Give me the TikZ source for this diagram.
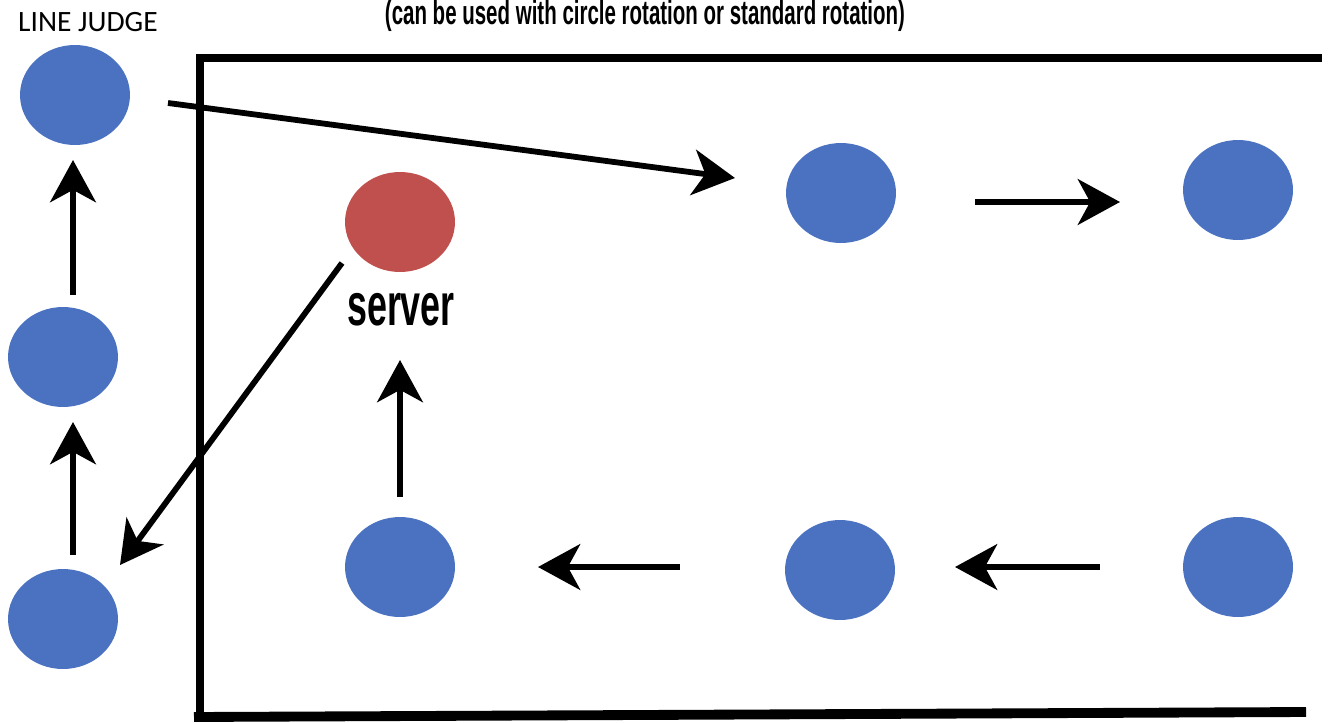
\documentclass[tikz,border=0pt]{standalone}
\usepackage{fontspec}
\setmainfont{Carlito}
\newfontfamily\capfont{Liberation Sans}
\usetikzlibrary{arrows.meta,shapes.geometric}
\definecolor{pblue}{HTML}{4A72C0}
\definecolor{pred}{HTML}{C0504D}
\tikzset{
  player/.style={ellipse, fill=pblue, draw=none, minimum width=110*0.569pt, minimum height=100*0.569pt, inner sep=0pt},
  srvnode/.style={player, fill=pred},
  move/.style={line width=3.3pt, -{Stealth[length=24pt, width=26pt, inset=7pt]}},
  court/.style={line width=4.6pt},
}
\begin{document}
\begin{tikzpicture}[x=0.02cm, y=-0.02cm]
\useasboundingbox (0,0) rectangle (1328,723);
% court
\coordinate (ctl) at (200,58);
\coordinate (ctr) at (1322,58);
\coordinate (cbl) at (200,718);
\coordinate (cbl2) at (194,717);
\coordinate (cbr) at (1306,712);
\draw[court] (ctr) -- (ctl) -- (cbl);
\draw[line width=5.6pt] (cbl2) -- (cbr);
% texts
\node[anchor=west, font=\fontsize{16.8pt}{19pt}\selectfont] (lj) at (12,22) {LINE JUDGE};
\node[anchor=base, inner sep=0pt] (cap) at (645,25) {\resizebox{296pt}{14pt}{\capfont\bfseries (can be used with circle rotation or standard rotation)}};
% players
\node[player] (ljt) at (75,95) {};
\node[player] (ljm) at (63,357) {};
\node[player] (ljb) at (63,619) {};
\node[srvnode] (srv) at (400,222) {};
\node[anchor=base, inner sep=0pt] (srvlbl) at (401,325) {\scalebox{0.6}[1]{\capfont\bfseries\fontsize{34pt}{36pt}\selectfont server}};
\node[player] (tm) at (841,193) {};
\node[player] (tr) at (1238,190) {};
\node[player] (bl) at (400,567) {};
\node[player] (bm) at (840,570) {};
\node[player] (br) at (1238,567) {};
% moves
\draw[move] ([shift={(93,8)}]ljt.center) -- ([shift={(-106,-15)}]tm.center);
\draw[move] ([shift={(134,9)}]tm.center) -- ([shift={(-118,12)}]tr.center);
\draw[move] ([shift={(-138,0)}]br.center) -- ([shift={(115,-3)}]bm.center);
\draw[move] ([shift={(-160,-3)}]bm.center) -- ([shift={(138,0)}]bl.center);
\draw[move] ([shift={(0,-70)}]bl.center) -- ([shift={(0,138)}]srv.center);
\draw[move] ([shift={(-58,41)}]srv.center) -- ([shift={(57,-54)}]ljb.center);
\draw[move] ([shift={(10,-64)}]ljb.center) -- ([shift={(10,65)}]ljm.center);
\draw[move] ([shift={(10,-62)}]ljm.center) -- ([shift={(-2,65)}]ljt.center);
\end{tikzpicture}
\end{document}
